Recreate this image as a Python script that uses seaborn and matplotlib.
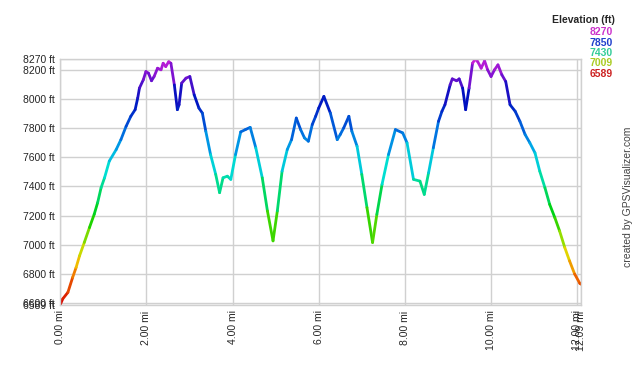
import numpy as np
import seaborn as sns
import matplotlib
matplotlib.use("Agg")
import matplotlib.pyplot as plt
from matplotlib.collections import LineCollection
from matplotlib.colors import LinearSegmentedColormap, Normalize

# Track profile
distance_mi = [0.00, 0.06, 0.18, 0.29, 0.37, 0.45, 0.56, 0.68, 0.79, 0.87, 0.95, 1.03, 1.14,
               1.30, 1.41, 1.53, 1.64, 1.74, 1.80, 1.84, 1.93, 1.99, 2.05, 2.12, 2.18, 2.26,
               2.34, 2.39, 2.45, 2.52, 2.57, 2.65, 2.72, 2.76, 2.82, 2.92, 3.01, 3.11, 3.22,
               3.30, 3.38, 3.49, 3.61, 3.70, 3.78, 3.88, 3.96, 4.07, 4.19, 4.30, 4.41, 4.54,
               4.69, 4.81, 4.94, 5.04, 5.15, 5.27, 5.37, 5.48, 5.58, 5.67, 5.76, 5.85, 5.93,
               6.00, 6.12, 6.27, 6.43, 6.50, 6.58, 6.70, 6.77, 6.89, 7.00, 7.12, 7.25, 7.35,
               7.47, 7.62, 7.78, 7.95, 8.05, 8.20, 8.35, 8.45, 8.55, 8.66, 8.78, 8.86, 8.93,
               9.05, 9.10, 9.20, 9.26, 9.34, 9.41, 9.49, 9.57, 9.63, 9.69, 9.77, 9.85, 9.92,
               10.00, 10.08, 10.16, 10.25, 10.34, 10.44, 10.56, 10.67, 10.79, 10.90, 11.02,
               11.13, 11.25, 11.36, 11.48, 11.59, 11.71, 11.82, 11.94, 12.06, 12.09]
elevation_ft = [6589, 6630, 6675, 6777, 6845, 6925, 7016, 7118, 7209, 7289, 7391, 7459, 7573,
                7652, 7720, 7811, 7880, 7925, 8005, 8073, 8130, 8186, 8175, 8123, 8152, 8209,
                8198, 8243, 8220, 8254, 8243, 8095, 7925, 7959, 8107, 8141, 8152, 8027, 7936,
                7902, 7777, 7618, 7482, 7357, 7459, 7470, 7448, 7618, 7773, 7789, 7804, 7664,
                7459, 7232, 7027, 7232, 7504, 7652, 7720, 7868, 7789, 7732, 7709, 7823, 7880,
                7936, 8016, 7902, 7720, 7755, 7800, 7880, 7777, 7675, 7482, 7255, 7016, 7209,
                7414, 7618, 7789, 7766, 7698, 7448, 7436, 7345, 7493, 7664, 7845, 7914, 7959,
                8095, 8136, 8123, 8136, 8073, 7925, 8073, 8243, 8270, 8254, 8209, 8259, 8198,
                8152, 8198, 8232, 8164, 8118, 7959, 7914, 7845, 7755, 7698, 7629,
                7504, 7391, 7277, 7186, 7095, 6982, 6891, 6800, 6736, 6730]

x_ticks = [0, 2, 4, 6, 8, 10, 12, 12.09]
y_ticks = [6589, 6600, 6800, 7000, 7200, 7400, 7600, 7800, 8000, 8200, 8270]
legend_values = [8270, 7850, 7430, 7009, 6589]
legend_colors = ["#cc33cc", "#1f3fcc", "#33cc99", "#aacc22", "#cc2222"]

sns.set_style("whitegrid", {"grid.color": "#d0d0d0", "axes.edgecolor": "#d0d0d0"})
plt.rcParams["font.family"] = ["Liberation Sans", "DejaVu Sans"]

cmap = LinearSegmentedColormap.from_list("elev", [
    (0.00, "#d40000"), (0.12, "#f07000"), (0.19, "#f0d000"), (0.25, "#b0e000"),
    (0.36, "#00d000"), (0.45, "#00d860"), (0.55, "#00e0d0"), (0.63, "#00b0e8"),
    (0.70, "#0070e0"), (0.76, "#0040d0"), (0.84, "#0010c0"), (0.93, "#7010d0"),
    (1.00, "#d020d8")])

fig = plt.figure(figsize=(6.4, 3.66), dpi=100)
ax = fig.add_axes([0.094, 0.167, 0.814, 0.671])

x = np.array(distance_mi)
y = np.array(elevation_ft)
pts = np.column_stack([x, y]).reshape(-1, 1, 2)
segs = np.concatenate([pts[:-1], pts[1:]], axis=1)
norm = Normalize(vmin=min(elevation_ft), vmax=max(elevation_ft))
lc = LineCollection(segs, cmap=cmap, norm=norm, linewidth=2.0, capstyle="round",
                    joinstyle="round")
lc.set_array((y[:-1] + y[1:]) / 2)
ax.add_collection(lc)

ax.set_xlim(0, 12.09)
ax.set_ylim(6589, 8270)
ax.set_xticks(x_ticks)
ax.set_xticklabels([f"{t:.2f} mi" for t in x_ticks], rotation=90, fontsize=7.5)
ax.set_yticks(y_ticks)
ax.set_yticklabels([f"{t} ft" for t in y_ticks], fontsize=7.5)
ax.tick_params(length=0, pad=4)
ax.grid(True, linewidth=1.0)
for s in ax.spines.values():
    s.set_color("#d0d0d0")
    s.set_linewidth(1.0)

fig.text(615 / 640, 1 - 20 / 366, "Elevation (ft)", ha="right", va="center",
         fontsize=7.5, fontweight="bold")
for i, (v, c) in enumerate(zip(legend_values, legend_colors)):
    fig.text(613 / 640, 1 - (32 + i * 10.5) / 366, str(v), ha="right", va="center",
             fontsize=7.5, color=c, fontweight="bold")

fig.text(628 / 640, 1 - 197 / 366, "created by GPSVisualizer.com", rotation=90,
         ha="center", va="center", fontsize=7.5, color="#444444")

fig.savefig("out.png", dpi=100)
